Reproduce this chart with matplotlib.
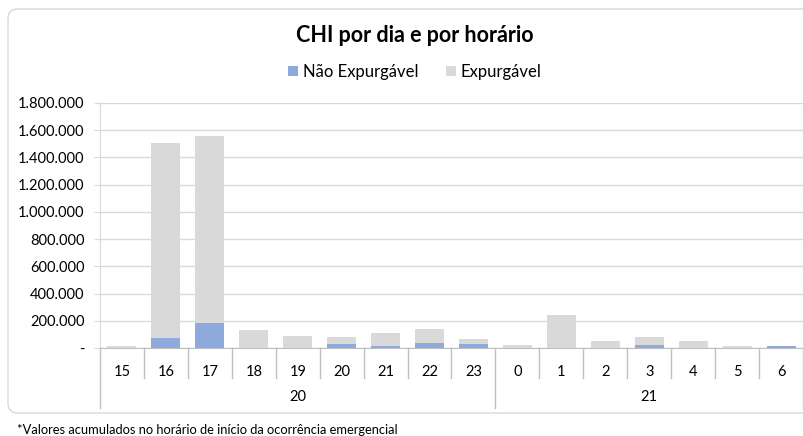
import matplotlib
matplotlib.use("Agg")
import matplotlib.pyplot as plt
from matplotlib.patches import FancyBboxPatch
from matplotlib.ticker import FuncFormatter
import matplotlib.transforms as mtransforms

hours = ["15", "16", "17", "18", "19", "20", "21", "22", "23", "0", "1", "2", "3", "4", "5", "6"]
days = ["20", "21"]
day_counts = [9, 7]
nao_expurgavel = [0, 74000, 184000, 0, 0, 32000, 12000, 39000, 32000, 0, 0, 0, 24000, 0, 0, 12000]
totais = [17000, 1505000, 1561000, 130000, 88000, 78000, 108000, 137000, 63000, 24000, 240000, 52000, 78000, 51000, 15000, 15000]
expurgavel = [t - n for t, n in zip(totais, nao_expurgavel)]

BLUE = "#8EA9DB"
GRAY = "#D9D9D9"
GRID = "#D9D9D9"
FONT = ["Lato", "DejaVu Sans"]
plt.rcParams["font.family"] = FONT

W, H = 804, 436
fig = plt.figure(figsize=(W / 100, H / 100), dpi=100)

def fx(px):
    return px / W

def fy(py):
    return 1 - py / H

# chart border
border = FancyBboxPatch((fx(8), fy(413)), fx(830) - fx(8), fy(9) - fy(413),
                        boxstyle="round,pad=0,rounding_size=0.012",
                        transform=fig.transFigure, facecolor="none",
                        edgecolor="#D9D9D9", linewidth=1.0, mutation_aspect=W / H, zorder=0)
fig.patches.append(border)

left, right, top, bottom = 100, 803, 103, 348
ax = fig.add_axes([fx(left), fy(bottom), fx(right) - fx(left), fy(top) - fy(bottom)])
ax.set_facecolor("none")

x = list(range(len(hours)))
ax.bar(x, nao_expurgavel, width=0.66, color=BLUE, label="Não Expurgável", zorder=3)
ax.bar(x, expurgavel, width=0.66, bottom=nao_expurgavel, color=GRAY, label="Expurgável", zorder=3)

ax.set_xlim(-0.5, len(hours) - 0.5)
ax.set_ylim(0, 1800000)
ax.set_yticks(range(0, 1800001, 200000))
ax.yaxis.set_major_formatter(FuncFormatter(lambda v, p: "-" if v == 0 else f"{int(v):,}".replace(",", ".")))
ax.grid(axis="y", color=GRID, linewidth=1.0, zorder=0)
ax.tick_params(axis="y", length=4, color=GRID, labelsize=10.5, labelcolor="#000000", pad=7)
for s in ["top", "right"]:
    ax.spines[s].set_visible(False)
ax.spines["left"].set_color(GRID)
ax.spines["bottom"].set_color("#BFBFBF")

ax.set_xticks(x)
ax.set_xticklabels(hours)
ax.tick_params(axis="x", length=0, labelsize=10.5, labelcolor="#000000", pad=12)

# separators
trans = mtransforms.blended_transform_factory(ax.transData, fig.transFigure)
bnds = [0]
for c in day_counts:
    bnds.append(bnds[-1] + c)
group_edges = set(b - 0.5 for b in bnds)
for i in range(len(hours) + 1):
    xe = i - 0.5
    yb = 408 if xe in group_edges else 378
    ax.plot([xe, xe], [fy(348), fy(yb)], transform=trans, color="#BFBFBF",
            linewidth=1.0, clip_on=False)

# day labels
start = 0
for d, c in zip(days, day_counts):
    xc = start + (c - 1) / 2
    ax.text(xc, fy(397), d, transform=trans, ha="center", va="center", fontsize=10.5, color="#000000")
    start += c

fig.text(fx(415), fy(35), "CHI por dia e por horário", ha="center", va="center",
         fontsize=15.5, fontweight="bold", color="#000000")

leg = fig.legend(loc="center", bbox_to_anchor=(fx(415), fy(72)), ncol=2, frameon=False,
                 fontsize=12, handlelength=0.6, handleheight=0.6, handletextpad=0.3,
                 columnspacing=1.6)

fig.text(fx(17), fy(430), "*Valores acumulados no horário de início da ocorrência emergencial",
         ha="left", va="center", fontsize=9.3, color="#000000")

fig.savefig("out.png", dpi=100)
